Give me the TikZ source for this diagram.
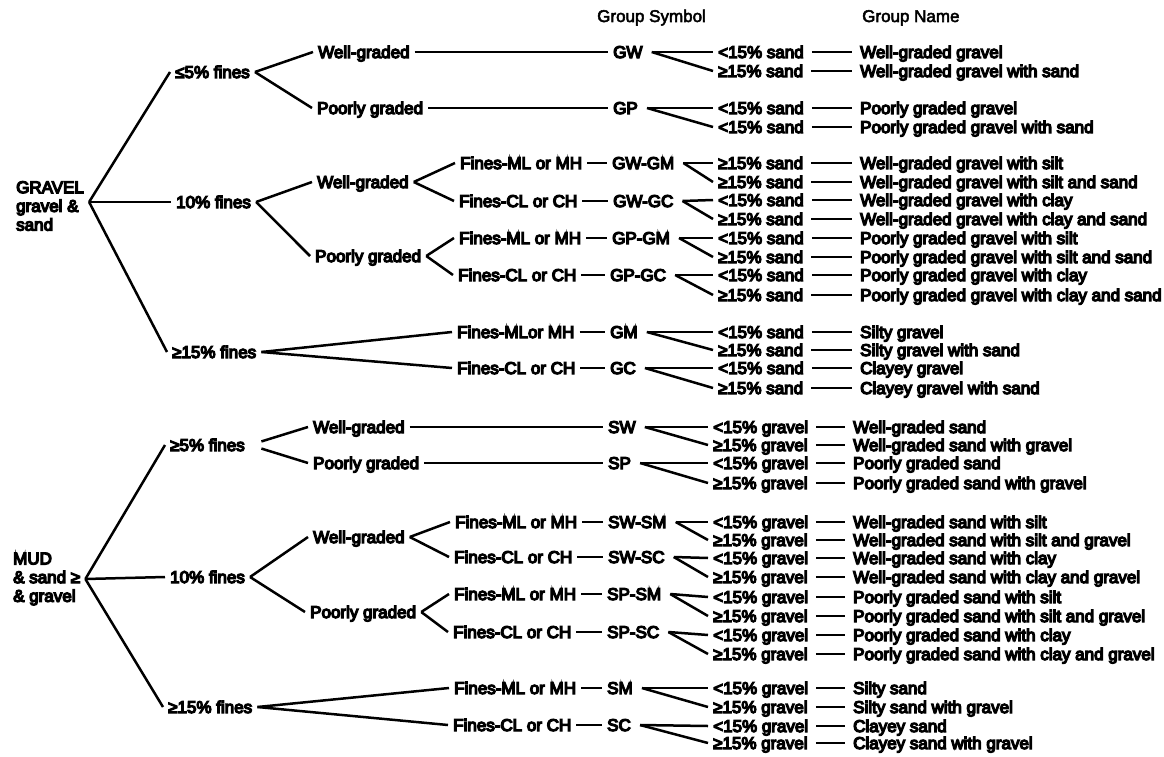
\documentclass[tikz,border=0pt]{standalone}
\usepackage{fontspec}
\setmainfont{Liberation Sans}
\newfontfamily\rowfont{Liberation Sans}[FakeBold=7.5]
\newfontfamily\headfont{Liberation Sans}[FakeBold=3]
\begin{document}
\begin{tikzpicture}[x=1pt,y=-1pt,
  font=\fontsize{17}{18.7}\rowfont,
  t/.style={anchor=west, inner xsep=5pt, inner ysep=0pt, xshift=-5pt,
            text height=12pt, text depth=0pt},
  rootbox/.style={anchor=west, align=left, inner xsep=5pt, inner ysep=0pt, xshift=-5pt},
  ln/.style={line width=2.5pt},
  namelink/.style={ln, line width=2pt, shorten <=3pt, shorten >=3pt}]
\useasboundingbox (0,0) rectangle (1164,757);

% column headings
\node[t, font=\fontsize{17}{18.7}\headfont] (hSym) at (597,16) {Group Symbol};
\node[t, font=\fontsize{17}{18.7}\headfont] (hName) at (862,16) {Group Name};

% ---------------- gravel ----------------
\node[rootbox] (gRoot) at (16,206) {GRAVEL\\gravel \&\\sand};
\node[t] (g5)  at (175,72)  {≤5\% fines};
\node[t] (g10) at (176,202) {10\% fines};
\node[t] (g15) at (172,352) {≥15\% fines};

\node[t] (g5w)  at (318,52)  {Well-graded};
\node[t] (g5p)  at (317,108) {Poorly graded};
\node[t] (g10w) at (317,182) {Well-graded};
\node[t] (g10p) at (315,256) {Poorly graded};

\node[t] (gF1) at (460,163) {Fines-ML or MH};
\node[t] (gF2) at (459,201) {Fines-CL or CH};
\node[t] (gF3) at (459,238) {Fines-ML or MH};
\node[t] (gF4) at (458,275) {Fines-CL or CH};
\node[t] (gF5) at (457,332) {Fines-MLor MH};
\node[t] (gF6) at (457,368) {Fines-CL or CH};

\node[t] (gS1) at (613,52)  {GW};
\node[t] (gS2) at (613,108) {GP};
\node[t] (gS3) at (612,163) {GW-GM};
\node[t] (gS4) at (613,201) {GW-GC};
\node[t] (gS5) at (612,238) {GP-GM};
\node[t] (gS6) at (610,275) {GP-GC};
\node[t] (gS7) at (610,332) {GM};
\node[t] (gS8) at (610,368) {GC};

\foreach \i/\y/\c/\n in {
  1/52/<15\% sand/Well-graded gravel,
  2/71/≥15\% sand/Well-graded gravel with sand,
  3/108/<15\% sand/Poorly graded gravel,
  4/127/<15\% sand/Poorly graded gravel with sand,
  5/163/≥15\% sand/Well-graded gravel with silt,
  6/182/≥15\% sand/Well-graded gravel with silt and sand,
  7/200/<15\% sand/Well-graded gravel with clay,
  8/219/≥15\% sand/Well-graded gravel with clay and sand,
  9/238/<15\% sand/Poorly graded gravel with silt,
  10/257/≥15\% sand/Poorly graded gravel with silt and sand,
  11/275/<15\% sand/Poorly graded gravel with clay,
  12/295/≥15\% sand/Poorly graded gravel with clay and sand,
  13/332/<15\% sand/Silty gravel,
  14/350/≥15\% sand/Silty gravel with sand,
  15/368/<15\% sand/Clayey gravel,
  16/388/≥15\% sand/Clayey gravel with sand}{
  \node[t] (gc\i) at (718,\y) {\c};
  \node[t] (gn\i) at (860,\y) {\n};
  \draw[namelink] (gc\i.east) -- (gn\i.west);
}

\draw[ln] ([yshift=4pt]gRoot.east) -- (g5.west);
\draw[ln] ([yshift=4pt]gRoot.east) -- (g10.west);
\draw[ln] ([yshift=4pt]gRoot.east) -- (g15.west);
\draw[ln] (g5.east) -- (g5w.west);
\draw[ln] (g5.east) -- (g5p.west);
\draw[ln] (g10.east) -- (g10w.west);
\draw[ln] (g10.east) -- (g10p.west);
\draw[ln] (g15.east) -- (gF5.west);
\draw[ln] (g15.east) -- (gF6.west);
\draw[ln] (g5w.east) -- (gS1.west);
\draw[ln] (g5p.east) -- (gS2.west);
\draw[ln] (g10w.east) -- (gF1.west);
\draw[ln] (g10w.east) -- (gF2.west);
\draw[ln] (g10p.east) -- (gF3.west);
\draw[ln] (g10p.east) -- (gF4.west);
\foreach \a/\b in {1/3,2/4,3/5,4/6,5/7,6/8}
  \draw[ln] (gF\a.east) -- (gS\b.west);
\foreach \s/\a/\b in {1/1/2,2/3/4,3/5/6,4/7/8,5/9/10,6/11/12,7/13/14,8/15/16}{
  \draw[ln] ([xshift=4pt]gS\s.east) -- (gc\a.west);
  \draw[ln] ([xshift=4pt]gS\s.east) -- (gc\b.west);
}

% ---------------- sand ----------------
\node[rootbox] (sRoot) at (13,579) {MUD\\\& sand ≥\\\& gravel};
\node[t] (s5)  at (170,445) {≥5\% fines};
\node[t] (s10) at (170,577) {10\% fines};
\node[t] (s15) at (168,707) {≥15\% fines};

\node[t] (s5w)  at (313,427) {Well-graded};
\node[t] (s5p)  at (313,463) {Poorly graded};
\node[t] (s10w) at (313,537) {Well-graded};
\node[t] (s10p) at (310,612) {Poorly graded};

\node[t] (sF1) at (455,522) {Fines-ML or MH};
\node[t] (sF2) at (454,557) {Fines-CL or CH};
\node[t] (sF3) at (454,594) {Fines-ML or MH};
\node[t] (sF4) at (453,632) {Fines-CL or CH};
\node[t] (sF5) at (454,688) {Fines-ML or MH};
\node[t] (sF6) at (453,725) {Fines-CL or CH};

\node[t] (sS1) at (608,427) {SW};
\node[t] (sS2) at (608,463) {SP};
\node[t] (sS3) at (608,522) {SW-SM};
\node[t] (sS4) at (608,557) {SW-SC};
\node[t] (sS5) at (607,594) {SP-SM};
\node[t] (sS6) at (607,632) {SP-SC};
\node[t] (sS7) at (607,688) {SM};
\node[t] (sS8) at (607,725) {SC};

\foreach \i/\y/\c/\n in {
  1/427/<15\% gravel/Well-graded sand,
  2/445/≥15\% gravel/Well-graded sand with gravel,
  3/463/<15\% gravel/Poorly graded sand,
  4/483/≥15\% gravel/Poorly graded sand with gravel,
  5/522/<15\% gravel/Well-graded sand with silt,
  6/540/≥15\% gravel/Well-graded sand with silt and gravel,
  7/558/<15\% gravel/Well-graded sand with clay,
  8/577/≥15\% gravel/Well-graded sand with clay and gravel,
  9/597/<15\% gravel/Poorly graded sand with silt,
  10/616/≥15\% gravel/Poorly graded sand with silt and gravel,
  11/635/<15\% gravel/Poorly graded sand with clay,
  12/654/≥15\% gravel/Poorly graded sand with clay and gravel,
  13/688/<15\% gravel/Silty sand,
  14/707/≥15\% gravel/Silty sand with gravel,
  15/726/<15\% gravel/Clayey sand,
  16/743/≥15\% gravel/Clayey sand with gravel}{
  \node[t] (sc\i) at (713,\y) {\c};
  \node[t] (sn\i) at (853,\y) {\n};
  \draw[namelink] (sc\i.east) -- (sn\i.west);
}

\draw[ln] (sRoot.east) -- (s5.west);
\draw[ln] (sRoot.east) -- (s10.west);
\draw[ln] (sRoot.east) -- (s15.west);
\draw[ln, shorten <=12pt] (s5.east) -- (s5w.west);
\draw[ln, shorten <=12pt] (s5.east) -- (s5p.west);
\draw[ln] (s10.east) -- (s10w.west);
\draw[ln] (s10.east) -- (s10p.west);
\draw[ln] (s15.east) -- (sF5.west);
\draw[ln] (s15.east) -- (sF6.west);
\draw[ln] (s5w.east) -- (sS1.west);
\draw[ln] (s5p.east) -- (sS2.west);
\draw[ln] (s10w.east) -- (sF1.west);
\draw[ln] (s10w.east) -- (sF2.west);
\draw[ln] (s10p.east) -- (sF3.west);
\draw[ln] (s10p.east) -- (sF4.west);
\foreach \a/\b in {1/3,2/4,3/5,4/6,5/7,6/8}
  \draw[ln] (sF\a.east) -- (sS\b.west);
\foreach \s/\a/\b in {1/1/2,2/3/4,3/5/6,4/7/8,5/9/10,6/11/12,7/13/14,8/15/16}{
  \draw[ln] ([xshift=4pt]sS\s.east) -- (sc\a.west);
  \draw[ln] ([xshift=4pt]sS\s.east) -- (sc\b.west);
}
\end{tikzpicture}
\end{document}
